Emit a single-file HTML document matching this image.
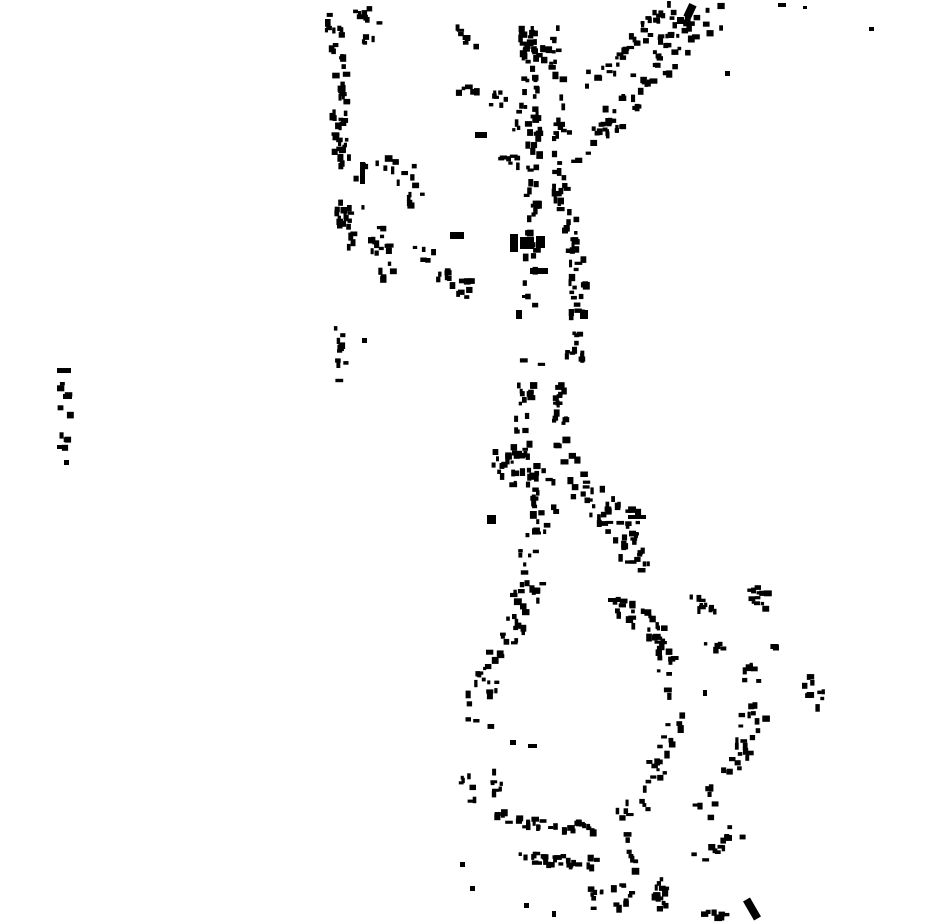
<!DOCTYPE html>
<html><head><meta charset="utf-8"><style>
html,body{margin:0;padding:0;background:#fff;width:930px;height:924px;overflow:hidden}
svg{display:block}
</style></head><body>
<svg id="m" width="930" height="924" xmlns="http://www.w3.org/2000/svg">
<rect x="0" y="0" width="930" height="924" fill="#fff"/>
<g fill="#000">
<rect x="510" y="234" width="8" height="18"/>
<rect x="520" y="237" width="14" height="12"/>
<rect x="536" y="236" width="9" height="12"/>
<rect x="530" y="268" width="18" height="6"/>
<rect x="450" y="232" width="14" height="7"/>
<rect x="360" y="162" width="5" height="22"/>
<rect x="475" y="132" width="12" height="6"/>
<rect x="628" y="515" width="18" height="4"/>
<rect x="608" y="598" width="12" height="4"/>
<rect x="748" y="898" width="8" height="22" transform="rotate(-30 752 909)"/>
<rect x="686" y="4" width="8" height="14" transform="rotate(25 690 11)"/>
<rect x="516" y="310" width="6" height="9"/>
<rect x="580" y="310" width="8" height="9"/>
<rect x="487" y="515" width="9" height="9"/>
<rect x="510" y="740" width="6" height="5"/>
<rect x="528" y="744" width="9" height="4"/>
<rect x="460" y="862" width="5" height="5"/>
<rect x="470" y="886" width="5" height="5"/>
<rect x="524" y="903" width="5" height="5"/>
<rect x="552" y="911" width="4" height="6"/>
<rect x="703" y="690" width="4" height="6"/>
<rect x="778" y="3" width="8" height="4"/>
<rect x="803" y="6" width="4" height="3"/>
<rect x="869" y="27" width="5" height="4"/>
<rect x="725" y="71" width="5" height="5"/>
<rect x="362" y="338" width="5" height="5"/>
<rect x="57" y="368" width="14" height="5"/>
<rect x="63" y="394" width="9" height="5"/>
<rect x="64" y="460" width="5" height="5"/>
<rect x="57" y="445" width="6" height="4"/>
</g>
<g id="b" fill="#000"></g>
</svg>
<script>
(function(){
var s=98765;function r(){s=(s*1103515245+12345)%2147483648;return s/2147483648;}
var segs=[
[[[330,12],[335,60],[338,120],[340,165]],50,8],
[[[355,12],[372,12],[365,45]],12,6],
[[[345,170],[400,160],[415,190]],14,10],
[[[340,200],[345,255]],18,8],
[[[370,210],[385,275]],19,10],
[[[400,200],[420,185]],5,6],
[[[420,250],[470,290]],19,10],
[[[335,330],[340,375]],10,6],
[[[60,370],[65,465]],9,5],
[[[450,25],[470,40]],7,6],
[[[450,80],[500,100],[520,120]],17,10],
[[[490,150],[520,160]],7,6],
[[[525,15],[530,100],[530,200],[528,300]],72,8],
[[[550,15],[555,100],[560,200],[575,260],[575,340]],72,8],
[[[570,150],[620,110],[660,60],[690,20],[715,15]],72,15],
[[[590,80],[640,30],[665,5]],36,10],
[[[510,40],[560,60]],10,8],
[[[565,350],[585,355]],10,5],
[[[530,360],[520,440],[505,480]],31,10],
[[[555,380],[560,440],[570,470]],24,8],
[[[500,460],[545,480],[540,520],[520,555]],43,14],
[[[570,480],[610,520],[645,560]],43,14],
[[[600,490],[640,515]],10,6],
[[[530,565],[515,620],[490,660],[475,720]],50,15],
[[[610,600],[650,620],[665,660],[670,720],[655,760],[640,800]],62,10],
[[[690,595],[715,605]],10,6],
[[[750,590],[770,610]],12,8],
[[[700,640],[720,645]],5,4],
[[[770,640],[775,650]],2,3],
[[[745,660],[755,700],[740,740],[715,780],[700,810]],38,10],
[[[800,675],[820,700]],10,6],
[[[460,770],[470,800]],7,6],
[[[495,770],[500,820]],12,6],
[[[510,820],[590,825]],26,5],
[[[515,855],[595,860]],26,5],
[[[620,800],[630,870]],12,6],
[[[690,860],[740,825]],12,8],
[[[595,895],[660,890]],19,12],
[[[700,915],[735,910]],8,5],
[[[655,880],[665,924]],10,6]
];
var g=document.getElementById('b'),h='';
segs.forEach(function(sg){
 var p=sg[0],n=sg[1],j=sg[2],L=[],T=0;
 for(var i=0;i<p.length-1;i++){var d=Math.hypot(p[i+1][0]-p[i][0],p[i+1][1]-p[i][1]);L.push(d);T+=d;}
 for(var k=0;k<n;k++){
  var t=r()*T,i=0;while(i<L.length-1&&t>L[i]){t-=L[i];i++;}
  var f=L[i]?t/L[i]:0;
  var x=p[i][0]+(p[i+1][0]-p[i][0])*f+(r()-0.5)*2*j;
  var y=p[i][1]+(p[i+1][1]-p[i][1])*f+(r()-0.5)*2*j;
  var w=3+r()*5,hh=3+r()*4;
  if(r()<0.4){var q=w;w=hh;hh=q;}
  h+='<rect x="'+x.toFixed(1)+'" y="'+y.toFixed(1)+'" width="'+w.toFixed(1)+'" height="'+hh.toFixed(1)+'"/>';
 }
});
g.innerHTML=h;
})();
</script>
</body></html>
